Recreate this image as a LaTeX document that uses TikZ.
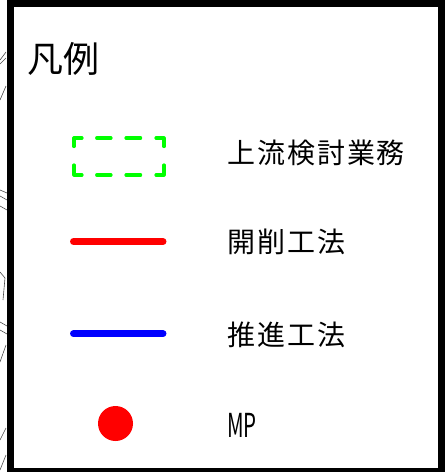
\documentclass[tikz,border=0pt]{standalone}
\usepackage{fontspec}
\setmainfont{Noto Sans CJK JP}
\newfontfamily\jp{Noto Sans CJK JP}
\newfontfamily\jpwide[LetterSpace=7]{Noto Sans CJK JP}
\definecolor{lgreen}{RGB}{0,255,0}
\definecolor{lred}{RGB}{255,0,0}
\definecolor{lblue}{RGB}{0,0,255}
\begin{document}
\begin{tikzpicture}[x=1pt,y=-1pt,
  label/.style={anchor=base west,inner sep=0pt,font=\jpwide\fontsize{28}{28}\selectfont},
  sample/.style={line width=7pt,line cap=round},
  greenbox/.style={lgreen,line width=3.2pt,line cap=round,line join=round},
  mapline/.style={black!70,line width=0.6pt}]
\useasboundingbox (0,0) rectangle (446,472);
% cropped map strokes at left edge
\draw[mapline] (0,60) -- (6,52);
\draw[mapline] (0,64) -- (6,58);
\draw[mapline] (0,100) -- (6,86);
\draw[mapline] (0,190) -- (7,193);
\draw[mapline] (0,196) -- (7,200);
\draw[mapline] (0,206) -- (7,210);
\draw[mapline] (0,272) -- (5,278) -- (3,300);
\draw[mapline] (0,322) -- (7,326);
\draw[mapline] (0,330) -- (7,334);
\draw[mapline] (0,362) -- (6,345);
\draw[mapline] (0,440) -- (6,428);
\draw[mapline] (0,470) -- (6,455);
% frame
\fill[black] (7,0) rectangle (445,472);
\fill[white] (14,7) rectangle (437.5,468);
% title
\node[anchor=base west,inner sep=0pt,font=\jp\fontsize{36}{36}\selectfont] (title) at (27,72.5) {凡例};
% green dashed box
\draw[greenbox] (82,138) -- (74,138) -- (74,146.5);
\draw[greenbox] (156,138) -- (164,138) -- (164,146.5);
\draw[greenbox] (74,165) -- (74,175) -- (82,175);
\draw[greenbox] (164,165) -- (164,175) -- (156,175);
\draw[greenbox] (96.7,138) -- (111,138);
\draw[greenbox] (126,138) -- (140.6,138);
\draw[greenbox] (96.7,175) -- (111,175);
\draw[greenbox] (126,175) -- (140.6,175);
% lines
\coordinate (r1) at (73.5,241.5);
\coordinate (r2) at (163,241.5);
\draw[sample,lred] (r1) -- (r2);
\coordinate (b1) at (73.5,333.7);
\coordinate (b2) at (163,333.7);
\draw[sample,lblue] (b1) -- (b2);
% MP dot
\fill[lred] (115.5,423.5) circle (17.5);
% labels
\node[label] (l1) at (227,163.5) {上流検討業務};
\node[label] (l2) at (227,252.5) {開削工法};
\node[label] (l3) at (227,345.5) {推進工法};
\node[anchor=base west,inner sep=0pt] (l4) at (227,437) {\scalebox{0.62}[1]{\jp\fontsize{33}{33}\selectfont MP}};
\end{tikzpicture}
\end{document}
